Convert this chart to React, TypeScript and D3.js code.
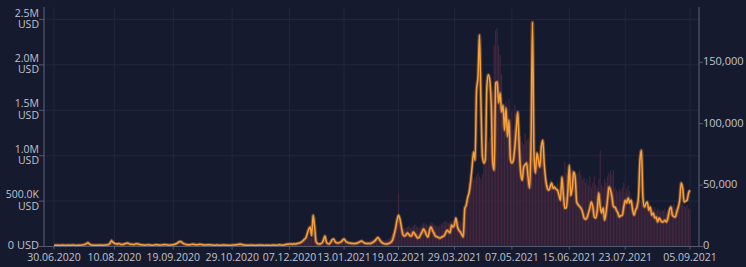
import React from "react";
import * as d3 from "d3";

// Daily values starting 30.06.2020 (index 0) to 05.09.2021 (index 432)
const startDate = new Date(2020, 5, 30);

// Orange line: value in thousands of USD (left axis)
const lineK: number[] = [
  12,14,13,15,12,14,16,13,12,15,
  14,13,15,16,14,12,13,15,14,16,
  18,24,32,40,28,18,15,14,13,15,
  14,16,15,13,14,16,18,22,35,62,
  48,36,30,28,32,26,22,25,30,34,
  38,30,26,24,22,26,30,28,24,20,
  18,16,15,17,19,16,15,14,16,18,
  20,17,15,16,18,22,20,17,15,16,
  18,20,24,30,40,52,56,44,32,26,
  22,20,18,22,26,24,20,18,22,25,
  22,19,17,16,18,20,18,16,15,14,
  15,16,14,13,15,17,16,14,13,12,
  14,15,16,18,20,22,26,24,20,16,
  15,14,13,15,16,14,13,12,14,15,
  16,14,13,12,14,15,13,12,14,16,
  15,14,16,18,17,15,16,20,24,26,
  27,28,26,30,27,32,36,40,50,60,
  80,93,140,190,215,120,345,220,55,32,
  28,30,40,70,115,50,32,28,50,75,
  82,52,40,38,45,50,70,82,60,48,
  40,38,35,33,32,34,38,45,55,60,
  48,38,34,32,33,34,40,52,62,85,
  100,78,55,40,32,28,27,32,38,50,
  72,130,200,290,345,300,210,130,115,125,
  150,135,115,118,160,140,115,93,100,130,
  160,192,165,125,105,170,215,180,150,115,
  108,100,93,100,110,118,150,180,165,150,
  235,215,240,315,220,180,160,130,105,420,
  455,540,600,720,880,1040,950,1720,1870,2330,
  1580,990,920,960,1760,1890,1830,1550,920,840,
  1800,1810,1580,1690,1480,1555,1280,1525,1210,1390,
  960,920,950,1095,1300,1480,1095,810,730,875,
  900,920,765,645,1140,2470,1030,810,1030,950,
  875,1100,1170,900,730,645,620,655,700,640,
  655,630,620,565,510,765,560,420,430,600,
  895,560,640,820,765,490,460,440,420,380,
  315,300,315,370,425,490,435,325,315,400,
  590,435,370,425,290,380,520,655,620,545,
  435,435,400,370,325,340,345,435,510,480,
  535,480,510,400,345,400,435,545,950,1060,
  545,435,470,490,400,435,345,370,315,325,
  270,315,290,270,275,290,270,315,400,435,
  345,330,325,380,435,510,700,645,490,500,
  510,590,620,
];

// Bars: value in thousands (right axis)
const barK: number[] = [
  1,1,1,1,1,1,1,1,1,1,
  1,1,1,1,1,1,1,1,1,1,
  1,2,2,3,2,1,1,1,1,1,
  1,1,1,1,1,1,2,2,4,7,
  5,3,2,2,3,2,2,2,3,3,
  3,2,2,2,2,2,2,2,2,1,
  1,1,1,1,1,1,1,1,1,1,
  2,1,1,1,1,2,1,1,1,1,
  1,2,2,3,3,4,5,3,2,2,
  2,2,2,2,2,2,2,2,2,2,
  2,1,1,1,1,2,1,1,1,1,
  1,1,1,1,1,1,1,1,1,1,
  1,1,1,2,2,2,3,2,2,1,
  1,1,1,1,1,1,1,1,1,1,
  1,1,1,1,1,1,1,1,1,1,
  1,1,1,1,1,1,1,2,2,2,
  2,2,2,2,2,3,3,3,4,4,
  5,6,7,8,9,7,10,8,4,3,
  3,3,3,4,6,4,3,3,3,4,
  4,3,3,3,3,3,4,4,4,3,
  3,3,3,3,3,4,4,4,5,5,
  4,4,4,4,4,5,5,6,6,7,
  8,7,6,5,5,5,5,6,7,9,
  11,13,14,18,43,20,15,14,14,15,
  16,17,16,15,17,18,17,16,15,16,
  18,19,19,18,17,18,20,19,18,17,
  17,16,17,18,19,20,21,20,19,21,
  20,21,19,18,19,20,21,19,20,30,
  32,34,52,55,57,54,56,58,60,57,
  55,59,68,70,72,85,88,90,127,164,
  176,178,164,156,140,111,112,118,105,120,
  100,110,95,115,108,100,88,90,85,83,
  92,86,88,85,80,72,76,70,73,75,
  72,76,70,56,50,52,48,55,53,50,
  48,45,52,42,48,40,44,69,60,58,
  62,57,63,60,55,50,60,62,58,54,
  56,52,55,50,57,48,52,57,50,48,
  55,78,50,48,55,52,57,60,62,58,
  62,48,46,44,47,45,48,52,44,47,
  50,45,40,38,37,36,35,40,38,36,
  34,33,35,34,32,33,31,30,32,29,
  31,30,28,30,29,31,28,29,32,34,
  33,35,31,30,33,36,34,35,33,32,
  34,31,30,
];

const xTickDates: string[] = [
  "2020-06-30","2020-08-10","2020-09-19","2020-10-29","2020-12-07","2021-01-13",
  "2021-02-19","2021-03-29","2021-05-07","2021-06-15","2021-07-23","2021-09-05",
];
const leftTicks: number[] = [0, 500000, 1000000, 1500000, 2000000, 2500000];
const leftTickLabels: string[][] = [["0 USD"], ["500.0K", "USD"], ["1.0M", "USD"], ["1.5M", "USD"], ["2.0M", "USD"], ["2.5M", "USD"]];
const rightTicks: number[] = [0, 50000, 100000, 150000];

const W = 746, H = 267;
const X0 = 44, X1 = 699, Y0 = 246.5, YT = 7;
const BG = "#161a2e";
const GRID = "#21273f";
const AXIS = "#535a72";
const TEXT = "#c0c3cf";
const FONT = "'Open Sans', sans-serif";

export default function App() {
  const x = d3.scaleLinear().domain([-6.8, 438.1]).range([X0, X1]);
  const yL = d3.scaleLinear().domain([0, 2637000]).range([Y0, YT]);
  const yR = d3.scaleLinear().domain([0, 195000]).range([Y0, YT]);
  const dayIdx = (s: string) => {
    const [yy, mm, dd] = s.split("-").map(Number);
    return d3.timeDay.count(startDate, new Date(yy, mm - 1, dd));
  };
  const fmt = d3.timeFormat("%d.%m.%Y");
  const dx = x(1) - x(0);
  const bw = dx * 0.78;

  const line = d3
    .line<number>()
    .x((_, i) => x(i))
    .y((v) => yL(v * 1000))
    .curve(d3.curveMonotoneX);

  return (
    <svg width={W} height={H} style={{ position: "fixed", left: 0, top: 0, background: BG }} fontFamily={FONT}>
      <rect x={0} y={0} width={W} height={H} fill={BG} />
      {leftTicks.slice(1).map((t) => (
        <line key={"hg" + t} x1={X0} x2={X1} y1={yL(t)} y2={yL(t)} stroke={GRID} strokeWidth={1} />
      ))}
      {xTickDates.map((s) => {
        const xi = x(dayIdx(s));
        return <line key={"vg" + s} x1={xi} x2={xi} y1={YT} y2={Y0} stroke={GRID} strokeWidth={1} />;
      })}
      <g fill="#45283f" fillOpacity={0.95}>
        {barK.map((v, i) => (
          <rect key={i} x={x(i) - bw / 2} y={yR(v * 1000)} width={bw} height={Y0 - yR(v * 1000)} />
        ))}
      </g>
      <path d={line(lineK) || ""} fill="none" stroke="#f59e38" strokeOpacity={0.35} strokeWidth={3.5} strokeLinejoin="round" />
      <path d={line(lineK) || ""} fill="none" stroke="#f7a03c" strokeWidth={1.5} strokeLinejoin="round" />
      <line x1={X0} x2={X0} y1={YT} y2={Y0} stroke={AXIS} strokeWidth={1.2} />
      <line x1={X1} x2={X1} y1={YT} y2={Y0} stroke={AXIS} strokeWidth={1.2} />
      <line x1={X0} x2={X1} y1={Y0} y2={Y0} stroke={AXIS} strokeWidth={1.2} />
      {leftTicks.map((t, k) => {
        const yy = yL(t);
        const lab = leftTickLabels[k];
        return (
          <g key={"lt" + t}>
            <line x1={X0 - 5} x2={X0} y1={yy} y2={yy} stroke={AXIS} strokeWidth={1} />
            {lab.length === 1 ? (
              <text x={39} y={yy} textAnchor="end" dominantBaseline="middle" fontSize={11} fill={TEXT}>{lab[0]}</text>
            ) : (
              <>
                <text x={39} y={yy - 5.6} textAnchor="end" dominantBaseline="middle" fontSize={10.5} fill={TEXT}>{lab[0]}</text>
                <text x={39} y={yy + 5.6} textAnchor="end" dominantBaseline="middle" fontSize={10.5} fill={TEXT}>{lab[1]}</text>
              </>
            )}
          </g>
        );
      })}
      {rightTicks.map((t) => {
        const yy = yR(t);
        return (
          <g key={"rt" + t}>
            <line x1={X1} x2={X1 + 4} y1={yy} y2={yy} stroke={AXIS} strokeWidth={1} />
            <text x={703} y={yy} dominantBaseline="middle" fontSize={11} fill={TEXT}>{d3.format(",")(t)}</text>
          </g>
        );
      })}
      {xTickDates.map((s) => {
        const d = dayIdx(s);
        const xi = x(d);
        return (
          <g key={"xt" + s}>
            <line x1={xi} x2={xi} y1={Y0} y2={Y0 + 3} stroke={AXIS} strokeWidth={1} />
            <text x={xi} y={258} textAnchor="middle" dominantBaseline="middle" fontSize={10.5} fill={TEXT}>
              {fmt(d3.timeDay.offset(startDate, d))}
            </text>
          </g>
        );
      })}
    </svg>
  );
}
